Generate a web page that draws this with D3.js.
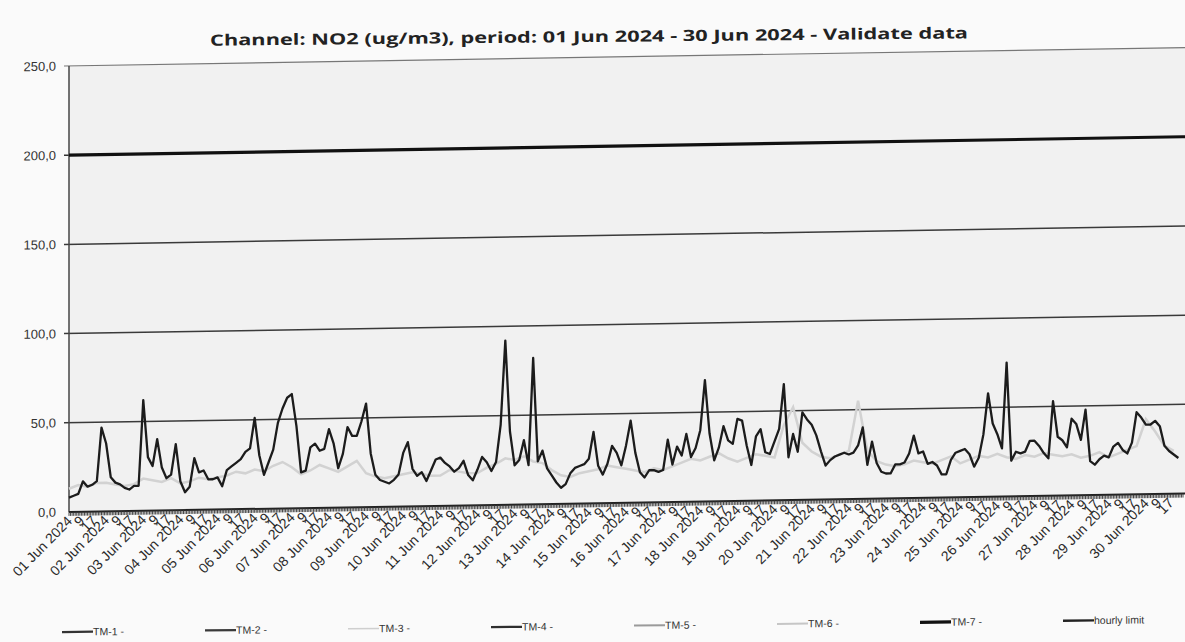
<!DOCTYPE html>
<html><head><meta charset="utf-8">
<script src="https://cdn.jsdelivr.net/npm/d3@7"></script>
<style>body{margin:0;background:#fafafa;} svg{display:block;}</style>
</head><body>
<svg id="c" width="1185" height="642"></svg>
<script>
const title = "Channel: NO2 (ug/m3), period: 01 Jun 2024 - 30 Jun 2024 - Validate data";
const days = ["01 Jun 2024","02 Jun 2024","03 Jun 2024","04 Jun 2024","05 Jun 2024","06 Jun 2024","07 Jun 2024","08 Jun 2024","09 Jun 2024","10 Jun 2024","11 Jun 2024","12 Jun 2024","13 Jun 2024","14 Jun 2024","15 Jun 2024","16 Jun 2024","17 Jun 2024","18 Jun 2024","19 Jun 2024","20 Jun 2024","21 Jun 2024","22 Jun 2024","23 Jun 2024","24 Jun 2024","25 Jun 2024","26 Jun 2024","27 Jun 2024","28 Jun 2024","29 Jun 2024","30 Jun 2024"];
const hourLabels = [{h:8,t:"9"},{h:16,t:"17"}];
const yTicks = [0,50,100,150,200,250];
const seriesNames = ["TM-1 -","TM-2 -","TM-3 -","TM-4 -","TM-5 -","TM-6 -","TM-7 -","hourly limit"];

// TM-7 values, one every 3 hours
const tm7Step = 3;
const tm7 = [
 8,9,10,17,14,15,17,47,
 38,19,16,15,13,12,14,14,
 62,30,25,40,24,18,20,37,
 16,10,13,29,21,22,17,17,
 18,13,22,24,26,28,32,34,
 51,30,19,26,33,48,56,62,
 64,46,20,21,34,36,32,33,
 44,36,22,30,45,40,40,48,
 58,30,18,15,14,13,15,18,
 30,36,21,17,19,14,20,26,
 27,24,22,19,21,25,17,14,
 20,27,24,19,24,45,92,41,
 22,25,36,22,82,24,30,20,
 16,12,9,11,17,20,21,22,
 25,40,21,16,22,32,28,21,
 32,46,28,17,14,18,18,17,
 18,35,21,31,26,38,25,30,
 40,68,38,23,30,42,34,32,
 46,45,31,20,36,40,27,26,
 33,40,65,24,37,27,49,45,
 42,36,27,19,22,24,25,26,
 25,26,30,40,19,32,20,15,
 14,14,19,19,20,25,35,25,
 26,19,20,18,13,13,21,25,
 26,27,24,17,22,35,58,41,
 35,27,75,20,25,24,25,31,
 31,28,24,21,53,33,31,27,
 43,40,31,48,19,17,20,22,
 21,27,29,25,23,29,46,43,
 39,39,41,38,27,24,22,20
];
// TM-6 values, one every 6 hours
const tm6Step = 6;
const tm6 = [
 13,15,14,16, 16,15,14,15, 18,17,16,18, 15,16,18,17, 18,19,21,20,
 22,21,24,26, 23,19,21,24, 22,20,23,26, 19,17,16,17, 18,19,18,17,
 17,20,19,18, 18,21,23,26, 25,27,24,23, 19,16,15,17, 18,19,21,20,
 19,18,17,19, 18,20,22,24, 23,25,27,24, 22,24,26,25, 24,42,52,32,
 27,24,23,25, 27,55,27,21, 19,18,19,21, 20,19,21,23, 19,21,23,22,
 24,22,21,23, 22,24,23,22, 23,21,22,24, 21,23,25,27, 42,35,27,24
];
const tm1 = [], tm2 = [], tm3 = [], tm4 = [], tm5 = [];
const hourlyLimit = [200, 200];
const totalHours = 720;

const svg = d3.select("#c");
const skew = "translate(65,0) skewY(-0.945) translate(-65,0)";
const g = svg.append("g").attr("transform", skew);

const x = d3.scaleLinear().domain([0, totalHours]).range([69, 1183]);
const y = d3.scaleLinear().domain([0, 250]).range([512, 66]);

// plot area
g.append("rect").attr("x", x(0)).attr("y", y(250)).attr("width", 1190 - x(0)).attr("height", y(0) - y(250)).attr("fill", "#f1f1f1");

// title (own, gentler slope)
svg.append("text").attr("transform", "translate(589,42) rotate(-0.55)").attr("text-anchor", "middle")
 .attr("font-family", "'Open Sans', sans-serif").attr("font-weight", 700).attr("font-size", 15.5)
 .attr("fill", "#222").attr("textLength", 758).attr("lengthAdjust", "spacingAndGlyphs").text(title);

// gridlines
const fmt = v => d3.format(".1f")(v).replace(".", ",");
g.append("g").selectAll("line").data(yTicks.filter(v => v > 0 && v !== 200)).join("line")
 .attr("x1", x(0) - 5).attr("x2", 1190).attr("y1", d => y(d)).attr("y2", d => y(d))
 .attr("stroke", d => d === 250 ? "#777" : "#3a3a3a").attr("stroke-width", d => d === 250 ? 1.2 : 1.5);
g.append("g").selectAll("text").data(yTicks).join("text")
 .attr("x", 56).attr("y", d => y(d)).attr("dy", "0.35em").attr("text-anchor", "end")
 .attr("font-family", "'Liberation Sans', Arial, sans-serif").attr("font-size", 13).attr("fill", "#333")
 .text(fmt);
g.append("line").attr("x1", x(0) - 5).attr("x2", x(0)).attr("y1", y(200)).attr("y2", y(200)).attr("stroke", "#333").attr("stroke-width", 1.5);

// y axis line
g.append("line").attr("x1", x(0)).attr("x2", x(0)).attr("y1", y(250)).attr("y2", y(0)).attr("stroke", "#444").attr("stroke-width", 1.5);

// series
const line = (step) => d3.line().x((d, i) => x(i * step)).y(d => y(d));
g.append("path").datum(tm6).attr("d", line(tm6Step)).attr("fill", "none").attr("stroke", "#d2d2d2").attr("stroke-width", 2.5);
g.append("path").datum(tm7).attr("d", line(tm7Step)).attr("fill", "none").attr("stroke", "#1c1c1c").attr("stroke-width", 2.3).attr("stroke-linejoin", "round");
g.append("path").datum(hourlyLimit).attr("d", line(totalHours)).attr("fill", "none").attr("stroke", "#111").attr("stroke-width", 3.2);
g.append("line").attr("x1", x(totalHours)).attr("x2", 1190).attr("y1", y(200)).attr("y2", y(200)).attr("stroke", "#111").attr("stroke-width", 3.2);

// x axis
g.append("line").attr("x1", x(0)).attr("x2", 1190).attr("y1", y(0)).attr("y2", y(0)).attr("stroke", "#222").attr("stroke-width", 2);
g.append("g").selectAll("line").data(d3.range(0, totalHours + 1)).join("line")
 .attr("x1", d => x(d)).attr("x2", d => x(d)).attr("y1", y(0)).attr("y2", y(0) + 4)
 .attr("stroke", "#333").attr("stroke-width", 0.9);

// x labels
const labels = [];
days.forEach((d, i) => {
  labels.push({h: i * 24, t: d});
  hourLabels.forEach(l => labels.push({h: i * 24 + l.h, t: l.t}));
});
g.append("g").selectAll("text").data(labels).join("text")
 .attr("transform", d => `translate(${x(d.h) + 4},${y(0) + 10}) rotate(-45)`)
 .attr("text-anchor", "end").attr("font-family", "'Liberation Sans', Arial, sans-serif")
 .attr("font-size", 14).attr("fill", "#2a2a2a").text(d => d.t);

// legend (own, gentler slope)
const legendStyles = [
 {c:"#333", w:2.2},{c:"#3a3a3a", w:2.2},{c:"#cfcfcf", w:1.5},{c:"#2e2e2e", w:2.2},
 {c:"#9a9a9a", w:2},{c:"#c6c6c6", w:2},{c:"#111", w:3.2},{c:"#222", w:2.4}
];
const lgRoot = svg.append("g").attr("transform", "translate(65,0) skewY(-0.65) translate(-65,0)");
const lg = lgRoot.selectAll("g").data(seriesNames).join("g")
 .attr("transform", (d, i) => `translate(${62 + i * 143},632)`);
lg.append("line").attr("x1", 0).attr("x2", 31).attr("y1", 0).attr("y2", 0)
 .attr("stroke", (d, i) => legendStyles[i].c).attr("stroke-width", (d, i) => legendStyles[i].w);
lg.append("text").attr("x", 31).attr("y", 0).attr("dy", "0.35em")
 .attr("font-family", "'Liberation Sans Narrow', 'Liberation Sans', Arial, sans-serif").attr("font-size", 10.5)
 .attr("fill", "#333").text(d => d);
</script>
</body></html>
